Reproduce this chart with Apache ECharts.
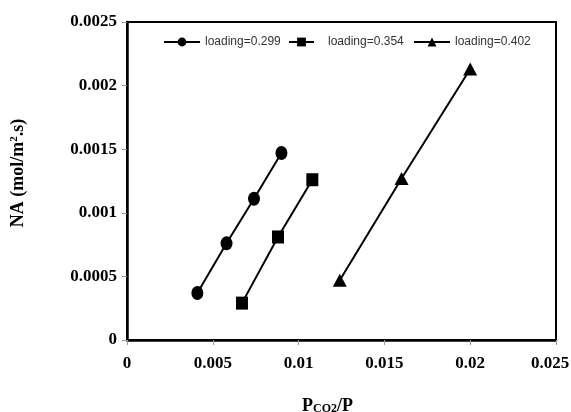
<!DOCTYPE html>
<html>
<head>
<meta charset="utf-8">
<script src="https://cdn.jsdelivr.net/npm/echarts@6/dist/echarts.min.js"></script>
<style>
  html, body { margin: 0; padding: 0; background: #fff; }
  #chart { width: 571px; height: 412px; }
</style>
</head>
<body>
<div id="chart"></div>
<script>
// values
const seriesNames = ['loading=0.299', 'loading=0.354', 'loading=0.402'];
const loading299X = [0.0041, 0.0058, 0.0074, 0.0090];
const loading299Y = [0.00037, 0.00076, 0.00111, 0.00147];
const loading354X = [0.0067, 0.0088, 0.0108];
const loading354Y = [0.00029, 0.00081, 0.00126];
const loading402X = [0.0124, 0.0160, 0.0200];
const loading402Y = [0.00047, 0.00127, 0.00213];
const xTicks = [0, 0.005, 0.01, 0.015, 0.02, 0.025];
const yTicks = [0, 0.0005, 0.001, 0.0015, 0.002, 0.0025];

const serif = "'Liberation Serif', 'Times New Roman', serif";
const sans = "'Liberation Sans', Arial, sans-serif";

function pairs(xs, ys) {
  return xs.map((x, i) => [x, ys[i]]);
}

function lineSeries(name, xs, ys, symbol, size) {
  return {
    name: name,
    type: 'line',
    data: pairs(xs, ys),
    symbol: symbol,
    symbolSize: size,
    showAllSymbol: true,
    itemStyle: { color: '#000' },
    lineStyle: { color: '#000', width: 2 },
    animation: false,
  };
}

function legendAt(name, left, width, pad) {
  return {
    data: [name],
    left: left,
    top: 36,
    padding: 0,
    itemWidth: width,
    itemHeight: 11,
    textStyle: {
      fontFamily: sans,
      fontSize: 12,
      color: '#333',
      padding: [0, 0, 0, pad],
    },
  };
}

const tickFont = { fontFamily: serif, fontWeight: 'bold', fontSize: 17, color: '#000' };

const option = {
  backgroundColor: '#fff',
  animation: false,
  grid: {
    left: 127,
    right: 15,
    top: 22,
    bottom: 72,
    outerBoundsMode: 'none',
    containLabel: false,
    show: true,
    borderColor: '#000',
    borderWidth: 2,
  },
  legend: [
    legendAt(seriesNames[0], 163, 36, 0),
    legendAt(seriesNames[1], 288, 25, 9),
    legendAt(seriesNames[2], 413, 36, 0),
  ],
  xAxis: {
    type: 'value',
    min: xTicks[0],
    max: xTicks[xTicks.length - 1],
    interval: 0.005,
    name: '{p|P}{sub|CO2}{p|/P}',
    nameLocation: 'middle',
    nameGap: 55,
    nameTextStyle: {
      padding: [0, 28, 0, 0],
      rich: {
        p: { fontFamily: serif, fontWeight: 'bold', fontSize: 18, color: '#000', lineHeight: 20, verticalAlign: 'bottom' },
        sub: { fontFamily: serif, fontWeight: 'bold', fontSize: 12, color: '#000', lineHeight: 12, verticalAlign: 'bottom' },
      },
    },
    axisLine: { show: true, onZero: false, lineStyle: { color: '#000', width: 2.5 } },
    axisTick: { show: true, length: 5, lineStyle: { color: '#999', width: 1 } },
    splitLine: { show: false },
    axisLabel: Object.assign({
      margin: 15,
      formatter: (v) => {
        const s = String(+v.toFixed(4));
        // last label sits a little left of its tick so it stays on the page
        return v >= xTicks[xTicks.length - 1] ? '{last|' + s + '}' : s;
      },
      rich: {
        last: Object.assign({ padding: [0, 12, 0, 0] }, tickFont),
      },
    }, tickFont),
  },
  yAxis: {
    type: 'value',
    min: yTicks[0],
    max: yTicks[yTicks.length - 1],
    interval: 0.0005,
    name: '{t|NA (mol/m}{sup|2}{t|.s)}',
    nameLocation: 'middle',
    nameRotate: 90,
    nameGap: 96,
    nameTextStyle: {
      padding: [0, 0, 0, 16],
      rich: {
        t: { fontFamily: serif, fontWeight: 'bold', fontSize: 18, color: '#000', lineHeight: 22, verticalAlign: 'top' },
        sup: { fontFamily: serif, fontWeight: 'bold', fontSize: 11, color: '#000', lineHeight: 12, verticalAlign: 'top' },
      },
    },
    axisLine: { show: true, onZero: false, lineStyle: { color: '#000', width: 2.5 } },
    axisTick: { show: true, length: 5, lineStyle: { color: '#999', width: 1 } },
    splitLine: { show: false },
    axisLabel: Object.assign({
      margin: 10,
      formatter: (v) => String(+v.toFixed(5)),
    }, tickFont),
  },
  series: [
    lineSeries(seriesNames[0], loading299X, loading299Y, 'circle', [12, 14]),
    lineSeries(seriesNames[1], loading354X, loading354Y, 'rect', [12, 13]),
    lineSeries(seriesNames[2], loading402X, loading402Y, 'triangle', [14, 13]),
  ],
};

const chart = echarts.init(document.getElementById('chart'), null, { renderer: 'canvas' });
chart.setOption(option);
</script>
</body>
</html>
